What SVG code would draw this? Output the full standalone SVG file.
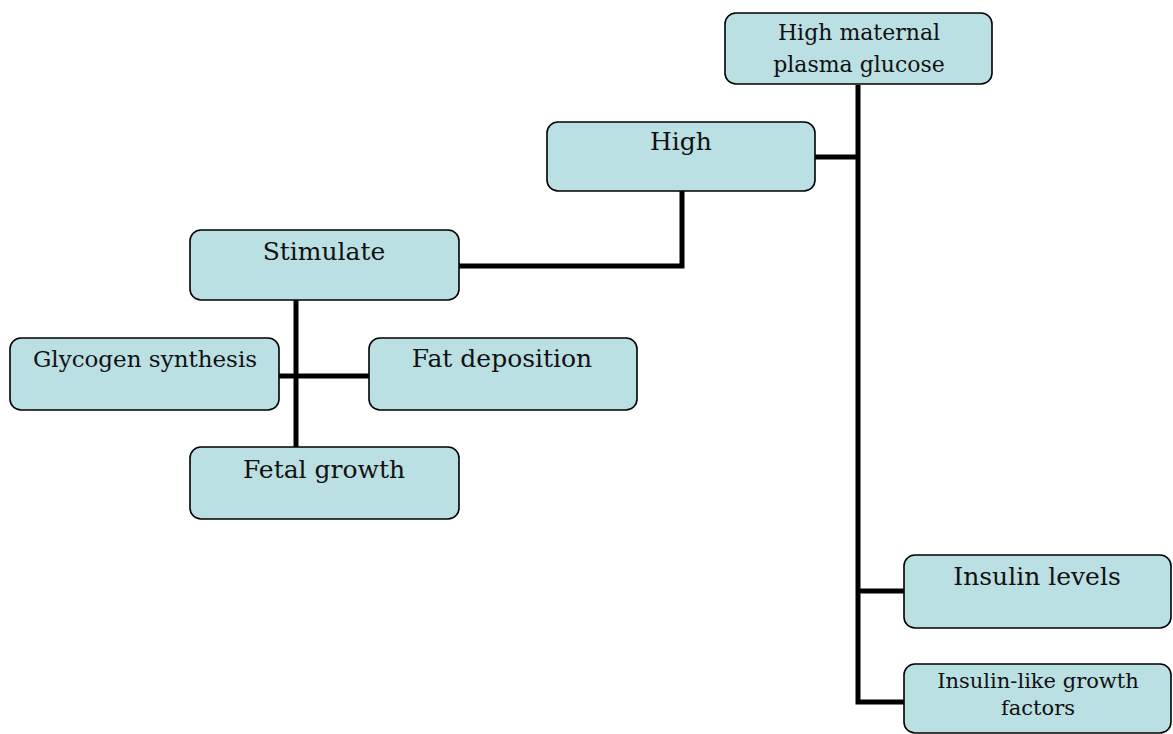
<svg xmlns="http://www.w3.org/2000/svg" width="1173" height="734" viewBox="0 0 1173 734">
<style>
.box{fill:#bbe0e3;stroke:#000;stroke-width:1.6}
.t{font-family:"DejaVu Serif","Liberation Serif",serif;fill:#111;text-anchor:middle}
.c{fill:none;stroke:#000;stroke-width:5;stroke-linecap:butt;stroke-linejoin:miter}
</style>
<rect width="1173" height="734" fill="#fff"/>
<g id="connectors">
<polyline class="c" points="858,85 858,702 904,702"/>
<line class="c" x1="815" y1="157" x2="858" y2="157"/>
<line class="c" x1="858" y1="591" x2="904" y2="591"/>
<polyline class="c" points="682,191 682,266 459,266"/>
<line class="c" x1="296" y1="300" x2="296" y2="447"/>
<line class="c" x1="279" y1="376" x2="369" y2="376"/>
</g>
<g id="n-maternal"><rect class="box" x="725" y="13" width="267" height="71" rx="11"/>
<text class="t" x="859" y="40" font-size="22">High maternal</text>
<text class="t" x="859" y="72" font-size="22">plasma glucose</text></g>
<g id="n-high"><rect class="box" x="547" y="122" width="268" height="69" rx="11"/>
<text class="t" x="681" y="150" font-size="25">High</text></g>
<g id="n-stimulate"><rect class="box" x="190" y="230" width="269" height="70" rx="11"/>
<text class="t" x="324" y="260" font-size="25">Stimulate</text></g>
<g id="n-glycogen"><rect class="box" x="10" y="338" width="269" height="72" rx="11"/>
<text class="t" x="145" y="367" font-size="23">Glycogen synthesis</text></g>
<g id="n-fat"><rect class="box" x="369" y="338" width="268" height="72" rx="11"/>
<text class="t" x="502" y="367" font-size="25">Fat deposition</text></g>
<g id="n-fetal"><rect class="box" x="190" y="447" width="269" height="72" rx="11"/>
<text class="t" x="324" y="478" font-size="25">Fetal growth</text></g>
<g id="n-insulin"><rect class="box" x="904" y="555" width="267" height="73" rx="11"/>
<text class="t" x="1037" y="585" font-size="25">Insulin levels</text></g>
<g id="n-igf"><rect class="box" x="904" y="664" width="267" height="69" rx="11"/>
<text class="t" x="1038" y="688" font-size="21">Insulin-like growth</text>
<text class="t" x="1038" y="715" font-size="21">factors</text></g>
</svg>
